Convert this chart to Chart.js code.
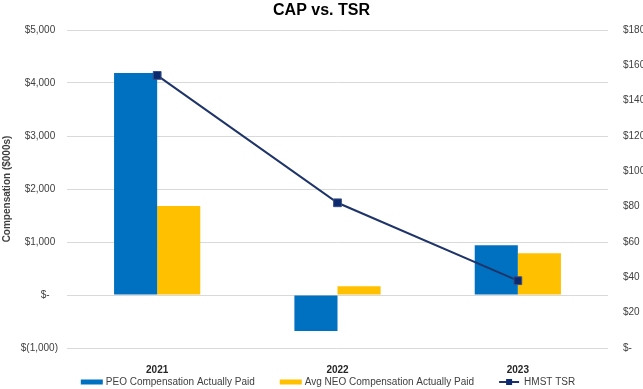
<!DOCTYPE html>
<html>
<head>
<meta charset="utf-8">
<script src="https://cdn.jsdelivr.net/npm/chart.js@4.4.1/dist/chart.umd.min.js"></script>
<style>
html,body{margin:0;padding:0;background:#fff;}
canvas{display:block;}
</style>
</head>
<body>
<canvas id="c" width="643" height="389"></canvas>
<script>
const categories = ['2021', '2022', '2023'];
const peoCAP = [4190, -680, 940];
const neoCAP = [1680, 165, 790];
const hmstTSR = [154.3, 82.2, 38.1];

const seriesNames = ['PEO Compensation Actually Paid', 'Avg NEO Compensation Actually Paid', 'HMST TSR'];

const leftTickValues = [-1000, 0, 1000, 2000, 3000, 4000, 5000];
const leftTickLabels = ['$(1,000)', '$-   ', '$1,000 ', '$2,000 ', '$3,000 ', '$4,000 ', '$5,000 '];
const rightTickValues = [0, 20, 40, 60, 80, 100, 120, 140, 160, 180];
const rightTickLabels = ['$-', '$20', '$40', '$60', '$80', '$100', '$120', '$140', '$160', '$180'];

const FONT = "'Liberation Sans', Arial, Helvetica, sans-serif";
const BLUE = '#0070C0';
const GOLD = '#FFC000';
const NAVY = '#1F3469';
const MARK = '#0E2A6E';
const TXT = '#404040';

const legendPlugin = {
  id: 'customLegend',
  afterDraw(chart) {
    const ctx = chart.ctx;
    ctx.save();
    ctx.font = '10px ' + FONT;
    const boxW = 22, gap = 3, itemGap = 25;
    const widths = seriesNames.map(t => ctx.measureText(t).width);
    const total = widths.reduce((a, b) => a + b, 0) + 3 * (boxW + gap) + 2 * itemGap;
    let x = 328 - total / 2;
    const y = 382;
    const colors = [BLUE, GOLD, NAVY];
    seriesNames.forEach((name, i) => {
      if (i < 2) {
        ctx.fillStyle = colors[i];
        ctx.fillRect(x, y - 2.5, boxW, 5);
      } else {
        ctx.strokeStyle = NAVY;
        ctx.lineWidth = 2;
        ctx.beginPath();
        ctx.moveTo(x, y);
        ctx.lineTo(x + boxW - 2, y);
        ctx.stroke();
        ctx.fillStyle = MARK;
        ctx.fillRect(x + (boxW - 2) / 2 - 3, y - 3, 6, 6);
      }
      ctx.fillStyle = TXT;
      ctx.textBaseline = 'middle';
      ctx.textAlign = 'left';
      ctx.fillText(name, x + boxW + gap, y + 0.5);
      x += boxW + gap + widths[i] + itemGap;
    });
    ctx.restore();
  }
};

new Chart(document.getElementById('c'), {
  data: {
    labels: categories,
    datasets: [
      {
        type: 'line',
        label: seriesNames[2],
        data: hmstTSR,
        yAxisID: 'y1',
        borderColor: NAVY,
        borderWidth: 2,
        pointStyle: 'rect',
        pointRadius: 5.5,
        pointBackgroundColor: MARK,
        pointBorderColor: '#3A4F85',
        pointBorderWidth: 1,
        tension: 0,
        order: 0
      },
      {
        type: 'bar',
        label: seriesNames[0],
        data: peoCAP,
        yAxisID: 'y',
        backgroundColor: BLUE,
        categoryPercentage: 0.478,
        barPercentage: 1,
        order: 1
      },
      {
        type: 'bar',
        label: seriesNames[1],
        data: neoCAP,
        yAxisID: 'y',
        backgroundColor: GOLD,
        categoryPercentage: 0.478,
        barPercentage: 1,
        order: 1
      }
    ]
  },
  options: {
    responsive: false,
    animation: false,
    devicePixelRatio: 1,
    layout: { padding: 0 },
    plugins: {
      legend: { display: false },
      tooltip: { enabled: false },
      title: {
        display: true,
        text: 'CAP vs. TSR',
        color: '#000',
        font: { family: FONT, size: 16, weight: 'bold' },
        padding: { top: 1, bottom: 9.8 }
      }
    },
    scales: {
      x: {
        grid: { display: false },
        border: { display: false },
        ticks: { color: '#262626', font: { family: FONT, size: 10, weight: 'bold' }, padding: 8 },
        afterFit(s) { s.height = 41; }
      },
      y: {
        position: 'left',
        min: -1000,
        max: 5000,
        afterBuildTicks(s) { s.ticks = leftTickValues.map(v => ({ value: v })); },
        grid: { color: '#D9D9D9', lineWidth: 1, drawTicks: false },
        border: { display: false },
        ticks: {
          color: TXT,
          font: { family: FONT, size: 10 },
          padding: 9,
          callback(v) { const i = leftTickValues.indexOf(v); return i >= 0 ? leftTickLabels[i] : ''; }
        },
        title: {
          display: true,
          text: 'Compensation ($000s)',
          color: TXT,
          font: { family: FONT, size: 10, weight: 'bold' },
          padding: { top: 1, bottom: 0 }
        },
        afterFit(s) { s.width = 67; }
      },
      y1: {
        position: 'right',
        min: 0,
        max: 180,
        afterBuildTicks(s) { s.ticks = rightTickValues.map(v => ({ value: v })); },
        grid: { display: false },
        border: { display: false },
        ticks: {
          color: TXT,
          font: { family: FONT, size: 10 },
          padding: 7,
          callback(v) { const i = rightTickValues.indexOf(v); return i >= 0 ? rightTickLabels[i] : ''; }
        },
        afterFit(s) { s.width = 35; }
      }
    }
  },
  plugins: [legendPlugin]
});
</script>
</body>
</html>
